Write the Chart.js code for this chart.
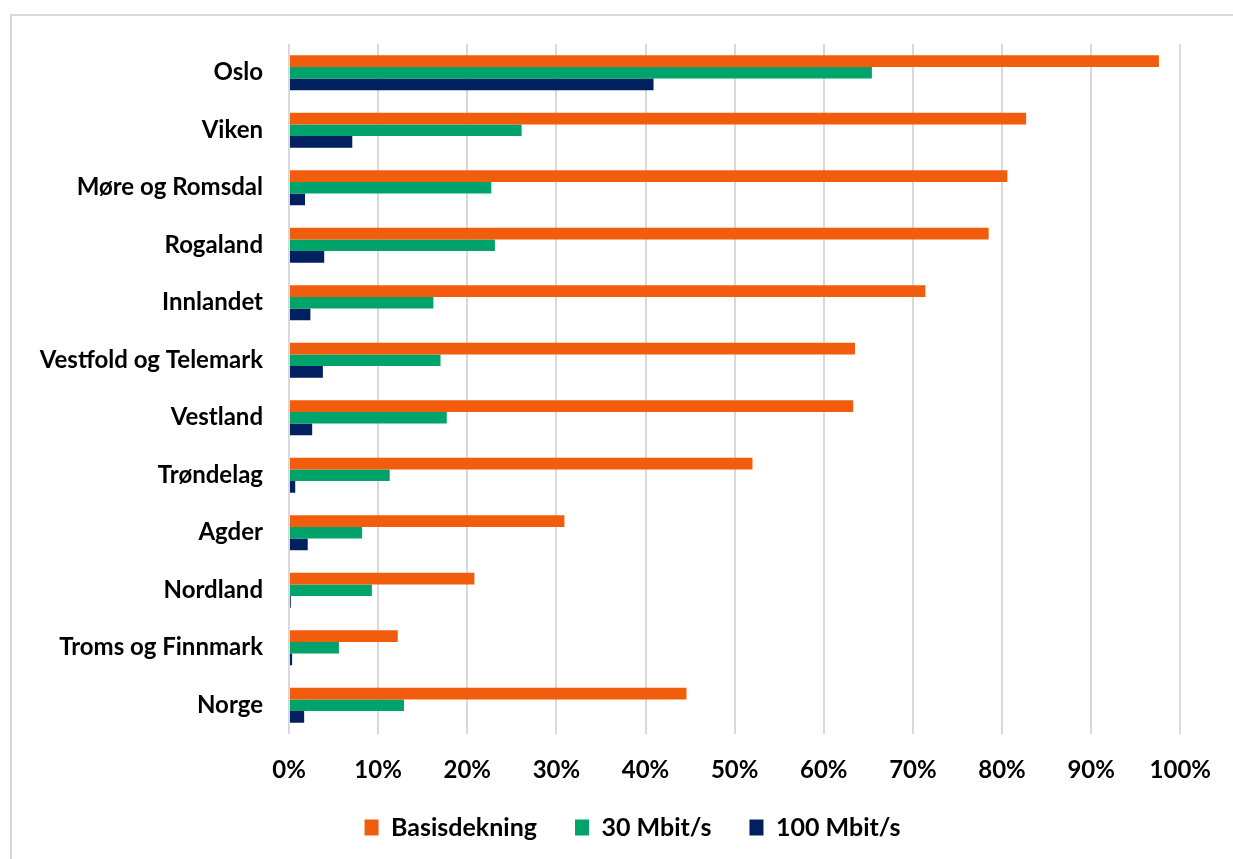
<!DOCTYPE html>
<html>
<head>
<meta charset="utf-8">
<script src="https://cdn.jsdelivr.net/npm/chart.js@4"></script>
<style>
  html, body { margin: 0; padding: 0; background: #fff; }
  #wrap { position: relative; width: 1233px; height: 859px; overflow: hidden; }
  #frame { position: absolute; left: 10px; top: 14px; width: 1240px; height: 860px;
           border: 2px solid #d9d9d9; box-sizing: border-box; }
  #chart { position: absolute; left: 0; top: 0; }
</style>
</head>
<body>
<div id="wrap">
  <div id="frame"></div>
  <canvas id="chart" width="1233" height="859"></canvas>
</div>
<script>
// ===== DATA =====
const categories = [
  "Oslo", "Viken", "Møre og Romsdal", "Rogaland", "Innlandet",
  "Vestfold og Telemark", "Vestland", "Trøndelag", "Agder",
  "Nordland", "Troms og Finnmark", "Norge"
];
const seriesNames = ["Basisdekning", "30 Mbit/s", "100 Mbit/s"];
const basisdekning = [97.6, 82.7, 80.6, 78.5, 71.4, 63.5, 63.3, 52.0, 30.9, 20.8, 12.2, 44.6];
const mbit30       = [65.4, 26.1, 22.7, 23.1, 16.2, 17.0, 17.7, 11.3, 8.2, 9.3, 5.6, 12.9];
const mbit100      = [40.9, 7.1, 1.8, 3.95, 2.4, 3.8, 2.6, 0.7, 2.1, 0.2, 0.35, 1.7];
const xTicks = [0, 10, 20, 30, 40, 50, 60, 70, 80, 90, 100];
const colors = ["#F25C0D", "#00A36A", "#00205F"];

const FONT = "Lato, 'Open Sans', sans-serif";
const gridColor = "#d9d9d9";

const ds = [basisdekning, mbit30, mbit100].map((vals, i) => ({
  label: seriesNames[i],
  data: vals,
  backgroundColor: colors[i],
  borderWidth: 0,
  barPercentage: 1.0,
  categoryPercentage: 0.61
}));

// legend sits a bit right of the canvas centre, like the original
const legendNudge = {
  id: "legendNudge",
  afterLayout(chart) {
    const lg = chart.legend;
    if (!lg) return;
    lg.left += 35;
    lg.right += 35;
    lg.top -= 9;
    lg.bottom -= 9;
  }
};

new Chart(document.getElementById("chart"), {
  type: "bar",
  data: { labels: categories, datasets: ds },
  plugins: [legendNudge],
  options: {
    indexAxis: "y",
    responsive: false,
    animation: false,
    layout: { padding: { top: 44, right: 50, left: 12, bottom: 0 } },
    plugins: {
      tooltip: { enabled: false },
      legend: {
        position: "bottom",
        labels: {
          color: "#000",
          font: { family: FONT, size: 25, weight: "bold" },
          boxWidth: 14,
          boxHeight: 16,
          padding: 38
        }
      }
    },
    scales: {
      x: {
        min: 0,
        max: 100,
        afterBuildTicks: s => { s.ticks = xTicks.map(v => ({ value: v })); },
        afterFit: s => { s.height = 52; },
        grid: { color: gridColor, lineWidth: 2, drawTicks: false },
        border: { display: false },
        ticks: {
          color: "#000",
          padding: 22,
          font: { family: FONT, size: 24, weight: "bold" },
          callback: v => v + "%"
        }
      },
      y: {
        afterFit: s => { s.width = 277; },
        grid: { display: false, drawTicks: false },
        border: { display: false },
        ticks: {
          color: "#000",
          padding: 26,
          font: { family: FONT, size: 24, weight: "bold" }
        }
      }
    }
  }
});
</script>
</body>
</html>
